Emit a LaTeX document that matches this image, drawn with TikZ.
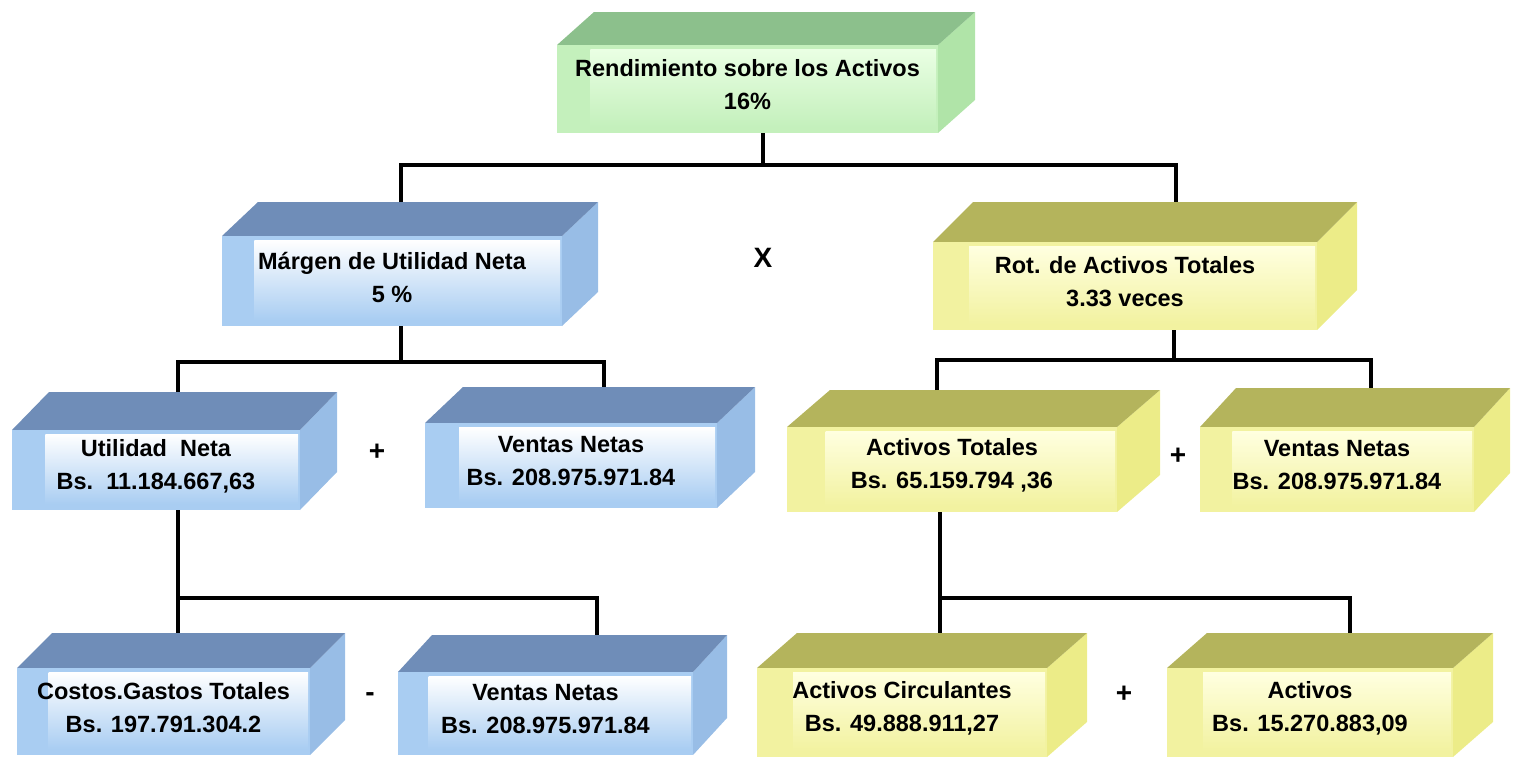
\documentclass[tikz,border=0pt]{standalone}
\usepackage{fontspec}
\setmainfont{Liberation Sans}
\usetikzlibrary{calc}

% face colours of the three box themes
\definecolor{bluetop}{HTML}{6F8DB8}
\definecolor{blueside}{HTML}{98BDE6}
\definecolor{bluefront}{HTML}{A9CDF2}
\definecolor{bluelight}{HTML}{FFFFFF}
\definecolor{greentop}{HTML}{8CC08C}
\definecolor{greenside}{HTML}{B0E4A8}
\definecolor{greenfront}{HTML}{C4F0BC}
\definecolor{greenlight}{HTML}{EAFFE4}
\definecolor{yeltop}{HTML}{B4B45C}
\definecolor{yelside}{HTML}{ECEC88}
\definecolor{yelfront}{HTML}{F2F2A0}
\definecolor{yellight}{HTML}{FFFFE0}

\tikzset{
  conn/.style={line width=4pt, black},
  lbl/.style={font=\bfseries\fontsize{23.5}{33}\selectfont, align=center, inner sep=0pt},
  op/.style={font=\bfseries\fontsize{28}{30}\selectfont, inner sep=0pt},
  hull/.style={inner sep=0pt, outer sep=0pt, draw=none},
}

% 3D box: #1 name, front face (#2,#3)-(#4,#5), depth (#6,#7), theme #8, text #9
\newcommand\cubebox[9]{%
  \fill[#8side] (#4,#3) -- ({#4+#6},{#3-#7}) -- ({#4+#6},{#5-#7}) -- (#4,#5) -- cycle;
  \fill[#8top] (#2,#3) -- ({#2+#6},{#3-#7}) -- ({#4+#6},{#3-#7}) -- (#4,#3) -- cycle;
  \fill[#8front] (#2,#3) rectangle (#4,#5);
  \shade[top color=#8light, bottom color=#8front]
    ({#2+0.9*#6},{#3+4}) rectangle ({#4-2},{#5-6});
  \node[hull, minimum width={(#4+#6-(#2))*1pt}, minimum height={(#5-(#3)+#7)*1pt}]
    (#1) at ({(#2+#4+#6)/2},{(#3-#7+#5)/2}) {};
  \node[lbl] (#1t) at ({(#2+#4)/2},{(#3+#5)/2-4}) {#9};
}

\begin{document}
\begin{tikzpicture}[x=1pt, y=-1pt]
\useasboundingbox (0,0) rectangle (1513,758);

% boxes
\cubebox{roa}{557}{45}{938}{133}{37}{33}{green}{Rendimiento sobre los Activos\\16\%}
\cubebox{mun}{222}{236}{562}{326}{36}{34}{blue}{Márgen de Utilidad Neta\\5 \%}
\cubebox{rat}{933}{242}{1317}{330}{40}{40}{yel}{Rot. de Activos Totales\\3.33 veces}
\cubebox{un}{12}{430}{300}{510}{37}{38}{blue}{Utilidad\ \ Neta\\Bs.\ \ 11.184.667,63}
\cubebox{vna}{425}{423}{717}{508}{38}{36}{blue}{Ventas Netas\\Bs. 208.975.971.84}
\cubebox{at}{787}{427}{1117}{512}{43}{37}{yel}{Activos Totales\\Bs. 65.159.794 ,36}
\cubebox{vnb}{1200}{427}{1474}{512}{36}{39}{yel}{Ventas Netas\\Bs. 208.975.971.84}
\cubebox{cgt}{17}{668}{310}{755}{35}{35}{blue}{Costos.Gastos Totales\\Bs. 197.791.304.2}
\cubebox{vnc}{398}{672}{693}{755}{34}{37}{blue}{Ventas Netas\\Bs. 208.975.971.84}
\cubebox{ac}{757}{668}{1047}{757}{40}{35}{yel}{Activos Circulantes\\Bs. 49.888.911,27}
\cubebox{af}{1167}{668}{1453}{757}{40}{35}{yel}{Activos\\Bs. 15.270.883,09}

% bus junctions
\coordinate (j1) at (763,165);
\coordinate (j1l) at (401,165);
\coordinate (j1r) at (1176,165);
\coordinate (j2) at (401,362);
\coordinate (j2l) at (178,362);
\coordinate (j2r) at (604,362);
\coordinate (j3) at (1174,360);
\coordinate (j3l) at (937,360);
\coordinate (j3r) at (1371,360);
\coordinate (j4) at (178,598);
\coordinate (j4r) at (597,598);
\coordinate (j5) at (940,598);
\coordinate (j5r) at (1350,598);

% connectors
\draw[conn] (roa.south -| j1) -- (j1);
\draw[conn] (mun.north -| j1l) -- (j1l) -- (j1r) -- (rat.north -| j1r);

\draw[conn] (mun.south -| j2) -- (j2);
\draw[conn] (un.north -| j2l) -- (j2l) -- (j2r) -- (vna.north -| j2r);

\draw[conn] (rat.south -| j3) -- (j3);
\draw[conn] (at.north -| j3l) -- (j3l) -- (j3r) -- (vnb.north -| j3r);

\draw[conn] (un.south -| j4) -- (cgt.north -| j4);
\draw[conn] (j4) -- (j4r) -- (vnc.north -| j4r);

\draw[conn] (at.south -| j5) -- (ac.north -| j5);
\draw[conn] (j5) -- (j5r) -- (af.north -| j5r);

% operators
\node[op] (opx) at (763,258) {X};
\node[op] (opa) at (377,452) {+};
\node[op] (opb) at (1178,456) {+};
\node[op] (opc) at (370,697) {-};
\node[op] (opd) at (1124,694) {+};
\end{tikzpicture}
\end{document}
